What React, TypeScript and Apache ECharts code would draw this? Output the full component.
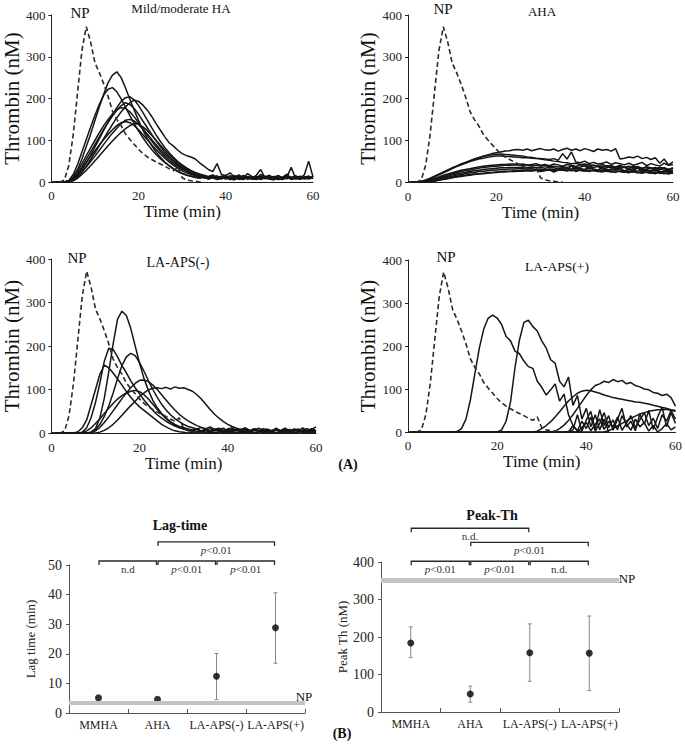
import React, { useEffect, useRef } from 'react';
import * as echarts from 'echarts';

const FONT = '"Liberation Serif", "Times New Roman", serif';

// time grid, minutes (0..60)
const MINUTES = Array.from({ length: 61 }, (_, i) => i);

// Normal plasma (dashed), same curve in every panel
const NP = [
  0, 0, 0, 5, 40, 113, 214, 315, 372, 335,
  285, 262, 235, 205, 170, 150, 135, 115, 102, 90,
  78, 68, 60, 54, 48, 43, 38, 32, 27, 35,
  10, 5, 3, 2, 0, 0,
];

// ---- Mild/moderate HA ----
const MM_A = [0,0,0,0,3,12,30,55,85,115, 148,180,210,238,256,264,250,225,198,172, 147,124,104,87,72,59,48,39,31,25, 20,16,14,12,10,13,8,11,15,7, 12,9,14,8,6,13,9,16,30,10, 8,13,6,9,15,7,11,8,12,14, 9];
const MM_B = [0,0,0,0,4,18,42,72,102,132, 160,186,208,222,226,216,199,179,159,140, 122,106,91,78,66,56,47,39,32,26, 21,17,14,11,9,12,7,10,6,9, 13,8,5,10,7,12,8,6,9,11, 7,5,10,8,13,6,9,7,11,8, 10];
const MM_C = [0,0,0,0,1,6,16,30,46,64, 84,104,124,143,161,178,193,202,204,197, 183,166,148,130,113,97,83,70,59,49, 41,34,28,23,19,16,13,17,11,14, 10,15,12,9,16,11,8,13,10,14, 9,12,15,8,11,35,9,14,10,12, 11];
const MM_D = [0,0,0,0,0,4,12,24,38,54, 70,87,104,121,138,154,168,180,190,196, 193,184,172,157,140,124,108,94,86,76, 68,63,60,55,46,38,30,25,44,18, 15,22,12,17,10,20,13,9,18,12, 16,8,15,11,19,9,14,10,17,50, 12];
const MM_E = [0,0,0,0,2,8,20,36,54,72, 90,108,126,143,158,172,183,190,186,176, 162,146,130,114,99,85,72,61,51,43, 36,30,25,21,17,14,11,15,9,12, 16,8,11,14,7,10,13,9,12,8, 15,10,7,11,14,9,12,8,10,13, 11];
const MM_F = [0,0,0,0,3,11,26,44,63,82, 100,118,135,150,163,173,178,176,168,156, 142,127,112,98,85,73,62,52,44,37, 31,26,21,17,14,11,9,13,7,10, 12,6,9,13,8,11,7,10,14,8, 9,12,6,10,8,11,13,7,9,12, 8];
const MM_G = [0,0,0,0,1,5,13,24,36,49, 62,76,90,104,117,129,140,148,150,146, 138,127,115,102,90,78,67,57,48,40, 33,27,22,18,14,11,9,12,8,11, 7,10,13,6,9,12,8,10,7,11, 9,13,8,6,10,12,7,9,11,8, 10];
const MM_H = [0,0,0,0,2,9,20,33,47,61, 75,89,102,114,125,135,142,145,142,135, 125,113,101,89,78,67,57,48,40,33, 27,22,18,15,12,10,8,11,7,9, 12,6,10,8,11,7,9,13,6,10, 8,12,9,7,11,8,10,12,7,9, 11];
const MM_I = [0,0,0,0,0,3,9,18,28,39, 51,63,75,87,98,109,119,128,135,140, 138,132,123,112,100,88,77,66,56,47, 39,32,26,21,17,13,10,14,9,12, 8,11,15,9,12,7,10,14,8,11, 9,13,7,10,12,9,15,8,11,13, 10];

// ---- AHA ----
const AHA_1 = [0,0,0,2,5,9,14,19,24,29, 34,38,42,46,50,54,58,62,65,68, 70,72,74,75,77,78,76,79,75,78, 80,77,76,79,74,78,81,76,79,75, 80,77,73,79,76,78,74,80,55,57, 60,58,62,56,59,54,58,45,55,41, 48];
const AHA_2 = [0,0,0,1,4,8,13,18,23,28, 33,38,43,47,51,55,58,61,63,65, 66,67,66,65,64,63,62,60,59,57, 56,55,54,56,52,68,55,72,48,46, 50,44,47,43,45,48,42,46,44,41, 45,40,43,47,39,44,41,38,45,40, 42];
const AHA_3 = [0,0,0,1,3,7,12,17,22,27, 32,37,41,45,49,52,55,57,59,61, 62,62,61,61,60,59,58,58,57,56, 55,53,52,50,49,47,46,44,45,42, 43,41,40,38,42,37,39,36,40,35, 38,34,37,33,36,32,35,31,34,30, 33];
const AHA_4 = [0,0,0,0,2,5,8,12,16,19, 22,25,28,30,32,34,36,38,39,40, 41,42,42,43,43,42,43,41,42,44, 40,42,39,43,41,38,42,40,37,41, 39,36,40,38,35,39,37,34,38,36, 33,37,35,32,36,34,31,35,33,30, 34];
const AHA_5 = [0,0,0,0,1,4,7,10,13,16, 19,22,25,27,29,31,33,35,36,37, 38,39,40,40,41,41,40,41,39,40, 38,39,37,38,36,37,35,38,34,36, 39,33,35,37,32,34,36,31,33,35, 30,32,34,29,31,33,28,30,32,27, 29];
const AHA_6 = [0,0,0,0,1,3,6,9,12,14, 17,19,21,23,25,27,28,30,31,32, 33,34,34,35,35,35,36,35,36,34, 35,33,35,34,32,34,33,31,33,32, 30,33,31,29,32,30,28,31,29,27, 30,28,26,29,27,25,28,26,24,27, 25];
const AHA_7 = [0,0,0,0,0,2,4,7,9,12, 14,16,18,20,22,23,25,26,27,28, 29,30,30,31,31,32,32,31,32,30, 31,29,31,30,28,30,29,27,29,28, 26,29,27,25,28,26,24,27,25,23, 26,24,22,25,23,21,24,22,20,23, 21];
const AHA_8 = [0,0,0,0,0,1,3,5,7,9, 11,13,15,16,18,19,20,21,22,23, 24,25,26,26,27,27,28,28,28,29, 28,29,28,27,29,28,27,29,26,28, 27,25,28,26,24,27,25,23,26,24, 22,25,23,21,24,22,20,23,21,19, 22];
const AHA_9 = [0,0,0,0,0,1,2,4,6,8, 10,12,13,15,16,18,19,20,21,22, 23,24,24,25,25,26,26,27,26,28, 25,27,30,24,28,35,26,40,25,33, 28,45,30,27,38,25,32,29,36,24, 31,27,34,22,30,26,33,20,28,25, 22];

// ---- LA-APS(-) ----
const LN_1 = [0,0,0,0,0,0,0,0,0,2, 10,35,80,140,205,262,280,270,240,200, 160,125,98,75,58,45,34,26,20,15, 12,9,7,10,5,8,4,9,6,3, 8,5,10,4,7,3,9,6,2,8, 5,11,4,7,3,9,6,12,5,8, 14];
const LN_2 = [0,0,0,0,0,0,3,12,30,65, 100,135,156,150,138,124,110,95,82,70, 60,52,44,36,28,20,14,9,5,3, 2,0,1,0,2,0,1,0,0,1, 0,1,0,0,2,0,1,0,0,1, 0,0,1,0,0,1,0,0,1,0, 0];
const LN_3 = [0,0,0,0,0,0,0,2,12,35, 70,115,165,195,192,175,155,138,120,104, 90,76,64,52,42,34,27,21,16,12, 9,7,5,8,4,6,3,7,5,2, 6,4,8,3,5,2,7,4,1,6, 3,8,2,5,3,7,4,6,2,5, 3];
const LN_4 = [0,0,0,0,0,0,0,0,0,2, 8,20,38,62,92,125,155,175,183,178, 162,142,120,100,82,66,53,42,33,26, 20,15,12,9,13,7,10,5,8,11, 4,9,6,3,8,5,10,4,7,2, 6,9,3,5,8,4,7,2,6,10, 5];
const LN_5 = [0,0,0,0,0,0,0,0,0,1, 5,13,24,37,51,65,79,92,104,114, 121,122,118,110,100,88,76,64,53,43, 35,28,22,17,13,10,14,8,11,6, 9,12,5,8,10,4,7,11,6,9, 3,8,5,10,4,7,9,3,6,8, 5];
const LN_6 = [0,0,0,0,0,0,0,1,5,12, 22,33,45,57,68,78,86,92,96,98, 95,88,78,66,54,43,33,25,18,13, 9,6,4,3,5,2,4,1,3,5, 2,4,1,3,2,4,1,3,5,2, 3,1,4,2,3,1,2,4,1,3, 2];
const LN_7 = [0,0,0,0,0,0,0,0,0,0, 0,2,6,12,20,30,41,52,63,73, 84,92,99,103,104,102,105,101,106,103, 104,100,96,88,78,66,54,43,34,26, 20,15,11,8,12,6,9,5,10,7, 4,8,6,11,5,9,3,7,10,4, 6];

// ---- LA-APS(+) ----
const LP_1 = [0,0,0,0,0,0,0,0,0,0, 0,1,8,30,75,136,195,240,265,272, 265,250,222,212,188,182,165,152,148,118, 104,86,98,112,72,88,40,15,3,0];
const LP_2 = [0,0,0,0,0,0,0,0,0,0, 0,0,0,0,0,0,0,0,0,0, 0,5,25,70,150,214,255,260,245,235, 212,195,168,160,118,105,128,62,85,30, 55,12,40,5,30,0];
const LP_3 = [0,0,0,0,0,0,0,0,0,0, 0,0,0,0,0,0,0,0,0,0, 0,0,0,0,0,0,0,0,0,2, 8,15,24,35,47,60,72,82,90,95, 97,96,93,90,86,83,80,78,76,74, 72,70,69,67,65,62,60,57,55,52, 50];
const LP_4 = [0,0,0,0,0,0,0,0,0,0, 0,0,0,0,0,0,0,0,0,0, 0,0,0,0,0,0,0,0,0,0, 0,0,0,2,8,16,27,40,55,70, 85,98,108,112,118,115,122,117,120,112, 115,108,105,100,98,92,90,85,88,80, 60];
const LP_5 = [0,0,0,0,0,0,0,0,0,0, 0,0,0,0,0,0,0,0,0,0, 0,0,0,0,0,0,0,0,0,0, 0,0,0,0,0,0,0,5,40,2, 28,48,6,52,15,38,4,30,55,12, 25,3,42,18,50,6,35,58,12,45, 20];
const LP_6 = [0,0,0,0,0,0,0,0,0,0, 0,0,0,0,0,0,0,0,0,0, 0,0,0,0,0,0,0,0,0,0, 0,0,0,0,0,0,0,0,0,10, 22,3,18,30,6,25,12,35,4,20, 38,10,28,45,15,32,8,40,25,50, 30];
const LP_7 = [0,0,0,0,0,0,0,0,0,0, 0,0,0,0,0,0,0,0,0,0, 0,0,0,0,0,0,0,0,0,0, 0,0,0,0,0,0,0,0,0,0, 0,0,0,0,0,3,8,14,20,26, 32,37,42,45,48,50,52,52,53,50, 48];
const LP_8 = [0,0,0,0,0,0,0,0,0,0, 0,0,0,0,0,0,0,0,0,0, 0,0,0,0,0,0,0,0,0,0, 0,0,0,0,0,0,0,15,3,25, 8,35,2,20,45,10,28,5,38,18, 4,30,12,22,2,15,0,8,20,5, 12];

const PANEL_CURVES = [
  [MM_A, MM_B, MM_C, MM_D, MM_E, MM_F, MM_G, MM_H, MM_I],
  [AHA_1, AHA_2, AHA_3, AHA_4, AHA_5, AHA_6, AHA_7, AHA_8, AHA_9],
  [LN_1, LN_2, LN_3, LN_4, LN_5, LN_6, LN_7],
  [LP_1, LP_2, LP_3, LP_4, LP_5, LP_6, LP_7, LP_8],
];
const PANEL_TITLES = ['Mild/moderate HA', 'AHA', 'LA-APS(-)', 'LA-APS(+)'];

// ---- (B) summary ----
const CATS = ['MMHA', 'AHA', 'LA-APS(-)', 'LA-APS(+)'];
const LAG_MEAN = [5.1, 4.6, 12.4, 28.8];
const LAG_LOW = [5.1, 4.6, 4.5, 16.8];
const LAG_HIGH = [5.1, 4.6, 20.1, 40.6];
const LAG_NP = 3.4;
const PEAK_MEAN = [184, 48, 158, 157];
const PEAK_LOW = [145, 26, 82, 57];
const PEAK_HIGH = [227, 69, 235, 256];
const PEAK_NP = 352;

const LAG_BR_FROM = [0, 1, 2, 1];
const LAG_BR_TO = [1, 2, 3, 3];
const LAG_BR_LEVEL = [51.35, 51.35, 51.35, 57.8];
const LAG_BR_LABEL = ['n.d', 'p<0.01', 'p<0.01', 'p<0.01'];
const PEAK_BR_FROM = [0, 1, 2, 0, 1];
const PEAK_BR_TO = [1, 2, 3, 2, 3];
const PEAK_BR_LEVEL = [402, 402, 402, 490, 452.5];
const PEAK_BR_LABEL = ['p<0.01', 'p<0.01', 'n.d.', 'n.d.', 'p<0.01'];

const GRIDS = [
  { left: 49, top: 15, width: 264, height: 167 },
  { left: 408, top: 15, width: 265, height: 167 },
  { left: 49, top: 259, width: 267, height: 174 },
  { left: 408, top: 260, width: 268, height: 172 },
  { left: 69, top: 565, width: 236, height: 148 },
  { left: 381, top: 562, width: 238, height: 150 },
];

const X_NAME_GAP = [21, 21, 19, 17];
const X_LABEL_MARGIN = [7, 8, 8, 7];
const Y_NAME_GAP = [24, 25, 28, 25];

function buildOption() {
  const xAxis: any[] = [];
  const yAxis: any[] = [];
  const series: any[] = [];

  for (let p = 0; p < 4; p++) {
    xAxis.push({
      gridIndex: p, type: 'value', min: 0, max: 60, interval: 20,
      axisLine: { lineStyle: { color: '#222', width: 1 } },
      axisTick: { show: false }, splitLine: { show: false },
      axisLabel: { fontSize: 13, color: '#222', fontFamily: FONT, margin: X_LABEL_MARGIN[p] },
      name: 'Time (min)', nameLocation: 'middle', nameGap: X_NAME_GAP[p],
      nameTextStyle: { fontSize: 17, fontFamily: FONT, color: '#111' },
    });
    yAxis.push({
      gridIndex: p, type: 'value', min: 0, max: 400, interval: 100,
      axisLine: { show: true, lineStyle: { color: '#222', width: 1 } },
      axisTick: { show: true, length: 3, lineStyle: { color: '#222' } },
      splitLine: { show: false },
      axisLabel: { fontSize: 13, color: '#222', fontFamily: FONT, margin: 6 },
      name: 'Thrombin (nM)', nameLocation: 'middle', nameRotate: 90, nameGap: Y_NAME_GAP[p],
      nameTextStyle: { fontSize: 21, fontFamily: FONT, color: '#111' },
    });
    PANEL_CURVES[p].forEach((arr) => {
      series.push({
        type: 'line', xAxisIndex: p, yAxisIndex: p, silent: true,
        data: arr.map((v, i) => [MINUTES[i], v]),
        showSymbol: false, symbol: 'none', z: 2,
        lineStyle: { color: '#151515', width: 1.5 },
      });
    });
    series.push({
      type: 'line', xAxisIndex: p, yAxisIndex: p, silent: true,
      data: NP.map((v, i) => [MINUTES[i], v]),
      showSymbol: false, symbol: 'none', z: 3,
      lineStyle: { color: '#2a2a2a', width: 1.6, type: [5, 3] },
    });
  }

  const bottom = [
    { gi: 4, max: 50, interval: 10, name: 'Lag time (min)', nameGap: 32, mean: LAG_MEAN, low: LAG_LOW, high: LAG_HIGH, np: LAG_NP, npW: 4,
      from: LAG_BR_FROM, to: LAG_BR_TO, level: LAG_BR_LEVEL, label: LAG_BR_LABEL },
    { gi: 5, max: 400, interval: 100, name: 'Peak Th (nM)', nameGap: 29, mean: PEAK_MEAN, low: PEAK_LOW, high: PEAK_HIGH, np: PEAK_NP, npW: 5,
      from: PEAK_BR_FROM, to: PEAK_BR_TO, level: PEAK_BR_LEVEL, label: PEAK_BR_LABEL },
  ];

  bottom.forEach((b) => {
    xAxis.push({
      gridIndex: b.gi, type: 'category', data: CATS, boundaryGap: true,
      axisLine: { lineStyle: { color: '#555', width: 1 } },
      axisTick: { show: true, inside: true, length: 4, lineStyle: { color: '#555' } },
      axisLabel: { fontSize: 12, color: '#222', fontFamily: FONT, margin: 6, interval: 0 },
      splitLine: { show: false },
    });
    yAxis.push({
      gridIndex: b.gi, type: 'value', min: 0, max: b.max, interval: b.interval,
      axisLine: { show: true, lineStyle: { color: '#555', width: 1 } },
      axisTick: { show: true, length: 3, lineStyle: { color: '#555' } },
      splitLine: { show: false },
      axisLabel: { fontSize: 14, color: '#222', fontFamily: FONT, margin: 7 },
      name: b.name, nameLocation: 'middle', nameRotate: 90, nameGap: b.nameGap,
      nameTextStyle: { fontSize: 13, fontFamily: FONT, color: '#222' },
    });
    // NP reference band
    series.push({
      type: 'line', xAxisIndex: b.gi, yAxisIndex: b.gi, data: [], silent: true,
      markLine: {
        silent: true, symbol: ['none', 'none'], label: { show: false },
        lineStyle: { color: '#c4c4c4', width: b.npW, type: 'solid' },
        data: [{ yAxis: b.np }],
      },
    });
    // error bars
    series.push({
      type: 'custom', xAxisIndex: b.gi, yAxisIndex: b.gi, silent: true, z: 3,
      data: CATS.map((_, i) => [i, b.low[i], b.high[i]]),
      encode: { x: 0, y: [1, 2] },
      renderItem: (params: any, api: any) => {
        const lo = api.coord([api.value(0), api.value(1)]);
        const hi = api.coord([api.value(0), api.value(2)]);
        if (Math.abs(lo[1] - hi[1]) < 1) return null;
        const st = { stroke: '#888', lineWidth: 1 };
        return {
          type: 'group',
          children: [
            { type: 'line', shape: { x1: lo[0], y1: lo[1], x2: hi[0], y2: hi[1] }, style: st },
            { type: 'line', shape: { x1: lo[0] - 2, y1: lo[1], x2: lo[0] + 2, y2: lo[1] }, style: st },
            { type: 'line', shape: { x1: hi[0] - 2, y1: hi[1], x2: hi[0] + 2, y2: hi[1] }, style: st },
          ],
        };
      },
    });
    // means
    series.push({
      type: 'scatter', xAxisIndex: b.gi, yAxisIndex: b.gi, silent: true, z: 4,
      data: b.mean, symbol: 'circle', symbolSize: 7, itemStyle: { color: '#000' },
    });
    // significance brackets
    series.push({
      type: 'custom', xAxisIndex: b.gi, yAxisIndex: b.gi, silent: true, clip: false, z: 5,
      data: b.from.map((f, i) => [f, b.to[i], b.level[i]]),
      encode: { x: [0, 1], y: 2 },
      renderItem: (params: any, api: any) => {
        const a = api.coord([api.value(0), api.value(2)]);
        const c = api.coord([api.value(1), api.value(2)]);
        const x1 = a[0] + 0.5, x2 = c[0] - 1, y = a[1];
        const lab: string = b.label[params.dataIndex];
        const txt = lab.startsWith('p') ? '{i|p}' + lab.slice(1) : lab;
        return {
          type: 'group',
          children: [
            { type: 'polyline', shape: { points: [[x1, y + 4], [x1, y], [x2, y], [x2, y + 4]] },
              style: { stroke: '#2a2a2a', lineWidth: 1.3, fill: null } },
            { type: 'text', x: (x1 + x2) / 2, y: y + 8,
              style: { text: txt, align: 'center', verticalAlign: 'middle', fontSize: 11, fontFamily: FONT, fill: '#333',
                rich: { i: { fontStyle: 'italic', fontSize: 11, fontFamily: FONT, fill: '#333' } } } },
          ],
        };
      },
    });
  });

  const txt = (text: string, x: number, y: number, size: number, bold = false) => ({
    type: 'text', x, y, silent: true,
    style: { text, fontSize: size, fontFamily: FONT, fontWeight: bold ? 'bold' : 'normal', fill: '#111', align: 'center', verticalAlign: 'middle' },
  });

  const graphic = [
    txt('NP', 80, 12.5, 15), txt(PANEL_TITLES[0], 181, 8, 13),
    txt('NP', 443, 9, 15), txt(PANEL_TITLES[1], 542, 11, 13),
    txt('NP', 77, 258, 15), txt(PANEL_TITLES[2], 178, 262, 14),
    txt('NP', 446, 256.5, 15), txt(PANEL_TITLES[3], 557, 266, 13.5),
    txt('(A)', 348, 464, 14, true),
    txt('Lag-time', 180, 525, 14, true),
    txt('Peak-Th', 492, 515, 14, true),
    txt('NP', 304, 696, 13), txt('NP', 627, 578, 13),
    txt('(B)', 342, 733, 14, true),
  ];

  return {
    animation: false,
    backgroundColor: '#fff',
    grid: GRIDS,
    xAxis, yAxis, series, graphic,
  };
}

export default function App() {
  const ref = useRef<HTMLDivElement>(null);
  useEffect(() => {
    document.body.style.margin = '0';
    const chart = echarts.init(ref.current!, null, { renderer: 'svg' });
    chart.setOption(buildOption() as any);
    return () => chart.dispose();
  }, []);
  return <div ref={ref} style={{ width: 685, height: 745 }} />;
}
